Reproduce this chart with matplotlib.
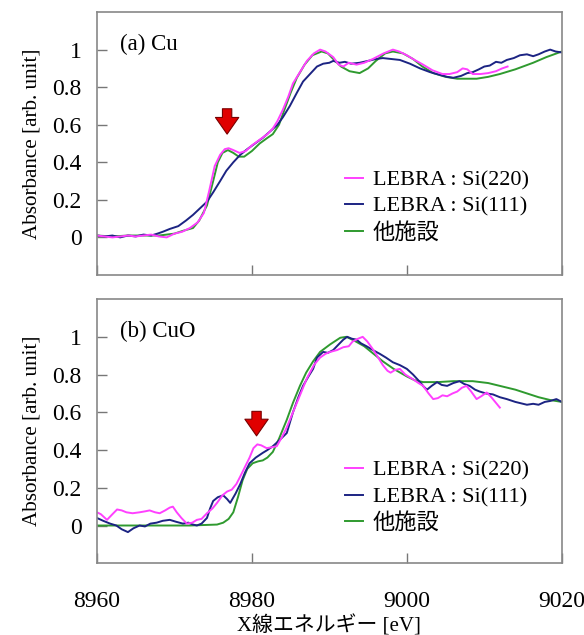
import numpy as np
import matplotlib
matplotlib.use('Agg')
import matplotlib.pyplot as plt

plt.rcParams['font.family'] = ['Liberation Serif', 'Noto Sans CJK JP']

# ---- (a) Cu ----
cu_x_220 = [8960, 8961, 8962, 8963, 8964, 8965, 8966, 8967, 8968, 8969, 8970, 8971, 8972, 8973,
            8973.8, 8974.5, 8975.2, 8975.9, 8976.5, 8977, 8977.6, 8978.4, 8979.2, 8980, 8981, 8982,
            8982.7, 8983.3, 8984, 8984.7, 8985.3, 8986.2, 8987.1, 8988, 8988.8, 8989.5, 8990.5,
            8991.2, 8991.8, 8992.5, 8993.5, 8994.5, 8995.6, 8997, 8998.2, 8999, 9000, 9001, 9002.1,
            9003.3, 9004.6, 9005.5, 9006.5, 9007.2, 9007.8, 9008.5, 9009.5, 9010.5, 9011.5, 9012.3, 9013]
cu_y_220 = [0.01, 0.005, 0.0, 0.005, 0.01, 0.005, 0.01, 0.015, 0.005, 0.0, 0.02, 0.03, 0.05, 0.08,
            0.13, 0.25, 0.38, 0.44, 0.47, 0.475, 0.465, 0.45, 0.46, 0.49, 0.52, 0.55,
            0.58, 0.62, 0.68, 0.75, 0.82, 0.88, 0.94, 0.98, 1.0, 0.99, 0.96,
            0.92, 0.91, 0.93, 0.92, 0.93, 0.95, 0.98, 1.0, 0.99, 0.97, 0.945, 0.92,
            0.89, 0.87, 0.87, 0.88, 0.90, 0.895, 0.87, 0.87, 0.875, 0.885, 0.90, 0.91]

cu_x_111 = [8960, 8961, 8962, 8963, 8964, 8965, 8966, 8967, 8967.8, 8968.5, 8969.4, 8970.5, 8971.5,
            8972.4, 8973.3, 8974.2, 8975, 8975.9, 8976.7, 8977.6, 8978.5, 8979.4, 8980.4, 8981.4,
            8982.5, 8983.3, 8984, 8984.9, 8985.8, 8986.6, 8987.5, 8988.4, 8989.2, 8990, 8990.5,
            8991.3, 8992, 8992.8, 8993.9, 8995, 8996, 8996.9, 8998, 8999.1, 9000.4, 9001.7, 9003,
            9004.3, 9005.2, 9006, 9007, 9007.8, 9008.5, 9009.3, 9010, 9010.7, 9011.5, 9012.2,
            9012.9, 9013.8, 9014.6, 9015.5, 9016.3, 9017, 9017.8, 9018.5, 9019.2, 9020]
cu_y_111 = [0.01, 0.005, 0.01, 0.0, 0.01, 0.005, 0.015, 0.01, 0.02, 0.03, 0.045, 0.06, 0.09,
            0.12, 0.155, 0.19, 0.24, 0.30, 0.355, 0.40, 0.44, 0.47, 0.50, 0.53,
            0.57, 0.60, 0.64, 0.70, 0.77, 0.83, 0.87, 0.91, 0.925, 0.93, 0.94,
            0.93, 0.935, 0.925, 0.93, 0.94, 0.95, 0.955, 0.95, 0.945, 0.925, 0.90, 0.88,
            0.865, 0.855, 0.85, 0.86, 0.875, 0.88, 0.895, 0.91, 0.915, 0.935, 0.93,
            0.945, 0.955, 0.97, 0.975, 0.965, 0.975, 0.99, 1.0, 0.99, 0.985]

cu_x_ref = [8960, 8962, 8964, 8966, 8968, 8970, 8971.1, 8972.4, 8973.2, 8974.2, 8975, 8975.6, 8976.2,
            8976.9, 8977.6, 8978.3, 8979, 8980, 8981, 8982, 8982.7, 8983.5, 8984.2, 8985, 8985.8,
            8986.8, 8987.8, 8989, 8989.8, 8990.5, 8991.5, 8992.6, 8993.9, 8995, 8996, 8997.2,
            8998.2, 8999.5, 9000.8, 9002, 9003.4, 9005, 9006.5, 9009, 9010.5, 9012, 9014, 9016.3,
            9018, 9020]
cu_y_ref = [0.01, 0.005, 0.01, 0.01, 0.01, 0.02, 0.035, 0.05, 0.09, 0.17, 0.30, 0.40, 0.45,
            0.465, 0.45, 0.43, 0.43, 0.46, 0.50, 0.53, 0.55, 0.60, 0.68, 0.77, 0.85,
            0.92, 0.97, 0.99, 0.98, 0.95, 0.91, 0.885, 0.875, 0.90, 0.94, 0.98,
            0.99, 0.98, 0.95, 0.91, 0.875, 0.855, 0.845, 0.845, 0.855, 0.87, 0.895, 0.93,
            0.96, 0.99]

# ---- (b) CuO ----
cuo_x_220 = [8960, 8960.5, 8961.3, 8962, 8962.6, 8963.2, 8963.8, 8964.6, 8965.5, 8966.2, 8966.8,
             8967.5, 8968.1, 8968.8, 8969.4, 8969.8, 8970.3, 8970.9, 8971.6, 8972.3, 8972.9,
             8973.5, 8974.2, 8974.9, 8975.5, 8976.2, 8976.8, 8977.4, 8978, 8978.5, 8979.1,
             8979.7, 8980.2, 8980.7, 8981.2, 8981.9, 8982.6, 8983.2, 8983.9, 8984.5, 8985.2,
             8985.8, 8986.5, 8987.1, 8988, 8988.8, 8989.5, 8990.1, 8991, 8991.8, 8992.5, 8993,
             8993.7, 8994.3, 8994.9, 8995.6, 8996.3, 8996.9, 8997.5, 8997.9, 8998.5, 8999.1,
             8999.8, 9000.8, 9001.5, 9002.1, 9002.8, 9003.4, 9004, 9004.6, 9005.2, 9005.9,
             9006.5, 9007.1, 9007.7, 9008.3, 9009, 9009.6, 9010.3, 9010.9, 9011.5, 9012]
cuo_y_220 = [0.07, 0.06, 0.03, 0.06, 0.085, 0.08, 0.07, 0.065, 0.07, 0.075, 0.08,
             0.07, 0.065, 0.08, 0.095, 0.10, 0.07, 0.04, 0.01, 0.015, 0.03,
             0.035, 0.065, 0.09, 0.12, 0.16, 0.18, 0.19, 0.22, 0.26, 0.31,
             0.36, 0.41, 0.43, 0.425, 0.41, 0.415, 0.42, 0.47, 0.52, 0.59,
             0.65, 0.72, 0.78, 0.85, 0.89, 0.91, 0.92, 0.93, 0.945, 0.95, 0.975,
             0.99, 1.0, 0.975, 0.935, 0.89, 0.85, 0.82, 0.81, 0.825, 0.83,
             0.80, 0.775, 0.755, 0.74, 0.70, 0.67, 0.675, 0.69, 0.685, 0.70,
             0.71, 0.73, 0.74, 0.71, 0.67, 0.685, 0.705, 0.68, 0.65, 0.625]

cuo_x_111 = [8960, 8960.8, 8961.7, 8962.5, 8963.2, 8964, 8964.7, 8965.5, 8966.2, 8966.9, 8967.7,
             8968.5, 8969.4, 8970.2, 8971.1, 8971.8, 8972.4, 8972.9, 8973.5, 8974.2, 8974.6,
             8975, 8975.6, 8976.3, 8976.8, 8977.2, 8977.9, 8978.5, 8979.1, 8979.7, 8980.5,
             8981.4, 8982, 8982.7, 8983.5, 8984.5, 8985.3, 8986, 8986.6, 8987.3, 8987.9, 8988.4,
             8989.2, 8989.8, 8990.5, 8991.2, 8991.8, 8992.3, 8992.9, 8993.5, 8994.1, 8994.8,
             8995.6, 8996.5, 8997.3, 8998.2, 8999.1, 9000, 9000.8, 9001.7, 9002.2, 9002.6,
             9003.2, 9003.9, 9004.5, 9005.2, 9006, 9006.8, 9007.4, 9008.1, 9008.8, 9009.4,
             9010.2, 9011.1, 9012, 9012.9, 9014, 9015.5, 9016.3, 9017, 9017.8, 9018.5, 9019.3, 9020]
cuo_y_111 = [0.04, 0.025, 0.01, 0.0, -0.02, -0.035, -0.015, 0.0, -0.005, 0.01, 0.015,
             0.025, 0.03, 0.02, 0.01, 0.015, 0.005, 0.0, 0.01, 0.04, 0.09,
             0.13, 0.15, 0.16, 0.14, 0.12, 0.17, 0.22, 0.28, 0.33, 0.36,
             0.385, 0.40, 0.42, 0.45, 0.49, 0.60, 0.68, 0.74, 0.79, 0.83, 0.89,
             0.92, 0.915, 0.93, 0.96, 0.985, 1.0, 0.99, 0.985, 0.965, 0.95,
             0.93, 0.91, 0.89, 0.865, 0.85, 0.83, 0.80, 0.76, 0.735, 0.72,
             0.74, 0.76, 0.745, 0.74, 0.755, 0.765, 0.75, 0.74, 0.72, 0.71,
             0.70, 0.695, 0.68, 0.67, 0.655, 0.64, 0.645, 0.64, 0.655, 0.66, 0.67, 0.655]

cuo_x_ref = [8960, 8966, 8972, 8975.5, 8976.3, 8977, 8977.6, 8978.2, 8978.8, 8979.4, 8980.1,
             8980.8, 8981.4, 8982, 8982.7, 8983.5, 8984.5, 8985.3, 8986.2, 8987, 8987.9, 8988.8,
             8990.1, 8991.4, 8992.2, 8993.2, 8994.5, 8995.7, 8996.9, 8998.3, 9000, 9001, 9002.1,
             9004, 9006, 9008.5, 9010.5, 9012, 9014, 9015.5, 9017, 9018.5, 9020]
cuo_y_ref = [0.0, 0.0, 0.0, 0.005, 0.015, 0.035, 0.07, 0.15, 0.24, 0.30, 0.33,
             0.34, 0.345, 0.36, 0.39, 0.46, 0.56, 0.65, 0.74, 0.81, 0.87, 0.92,
             0.96, 0.995, 1.0, 0.98, 0.95, 0.91, 0.87, 0.83, 0.79, 0.77, 0.76,
             0.76, 0.765, 0.765, 0.755, 0.74, 0.72, 0.70, 0.68, 0.665, 0.655]

labels = ['LEBRA : Si(220)', 'LEBRA : Si(111)', '他施設']
colors = ['#ff40ff', '#1c2483', '#2f9a2f']
panel_titles = ['(a) Cu', '(b) CuO']
arrow_x = [8976.8, 8980.6]
arrow_top = [0.685, 0.605]
arrow_tip = [0.55, 0.475]

panels = [
    [(cu_x_220, cu_y_220), (cu_x_111, cu_y_111), (cu_x_ref, cu_y_ref)],
    [(cuo_x_220, cuo_y_220), (cuo_x_111, cuo_y_111), (cuo_x_ref, cuo_y_ref)],
]

fig = plt.figure(figsize=(5.84, 6.35), dpi=100)
ax1 = fig.add_axes([0.166, 0.567, 0.796, 0.414])
ax2 = fig.add_axes([0.166, 0.113, 0.796, 0.416])

for i, ax in enumerate([ax1, ax2]):
    # reference drawn first so the LEBRA lines sit on top
    handles = [None, None, None]
    for j in [2, 1, 0]:
        xs, ys = panels[i][j]
        handles[j], = ax.plot(xs, ys, color=colors[j], lw=1.4, label=labels[j])
    ax.set_xlim(8960, 9020)
    ax.set_ylim(-0.2, 1.2)
    ax.set_yticks([0, 0.2, 0.4, 0.6, 0.8, 1.0])
    ax.set_yticklabels(['0', '0.2', '0.4', '0.6', '0.8', '1'])
    ax.set_xticks([8960, 8980, 9000, 9020])
    ax.tick_params(direction='in', length=7, width=1, color='#777777', labelsize=17,
                   right=False, top=False)
    ax.tick_params(axis='y', pad=11)
    ax.tick_params(axis='x', pad=20)
    for s in ax.spines.values():
        s.set_color('#888888')
        s.set_linewidth(1.2)
    ax.set_ylabel('Absorbance [arb. unit]', fontsize=15.2, labelpad=8)
    ax.text(8963, 1.03, panel_titles[i], fontsize=16.5, va='center', ha='left')
    ax.annotate('', xy=(arrow_x[i], arrow_tip[i]), xytext=(arrow_x[i], arrow_top[i]),
                arrowprops=dict(arrowstyle='simple,head_length=0.75,head_width=1.05,tail_width=0.42',
                                fc='#e00000', ec='#7a0000', lw=0.8, mutation_scale=16,
                                shrinkA=0, shrinkB=0))
    ax.legend(handles=handles, loc='center left', bbox_to_anchor=(0.51, 0.26 if i == 0 else 0.25),
              frameon=False, fontsize=16, handlelength=0.8, handletextpad=0.45,
              labelspacing=0.26, borderpad=0)

ax1.tick_params(axis='x', labelbottom=False)
ax2.set_xlabel('X線エネルギー [eV]', fontsize=15, labelpad=2)

fig.savefig('out.png', dpi=100)
